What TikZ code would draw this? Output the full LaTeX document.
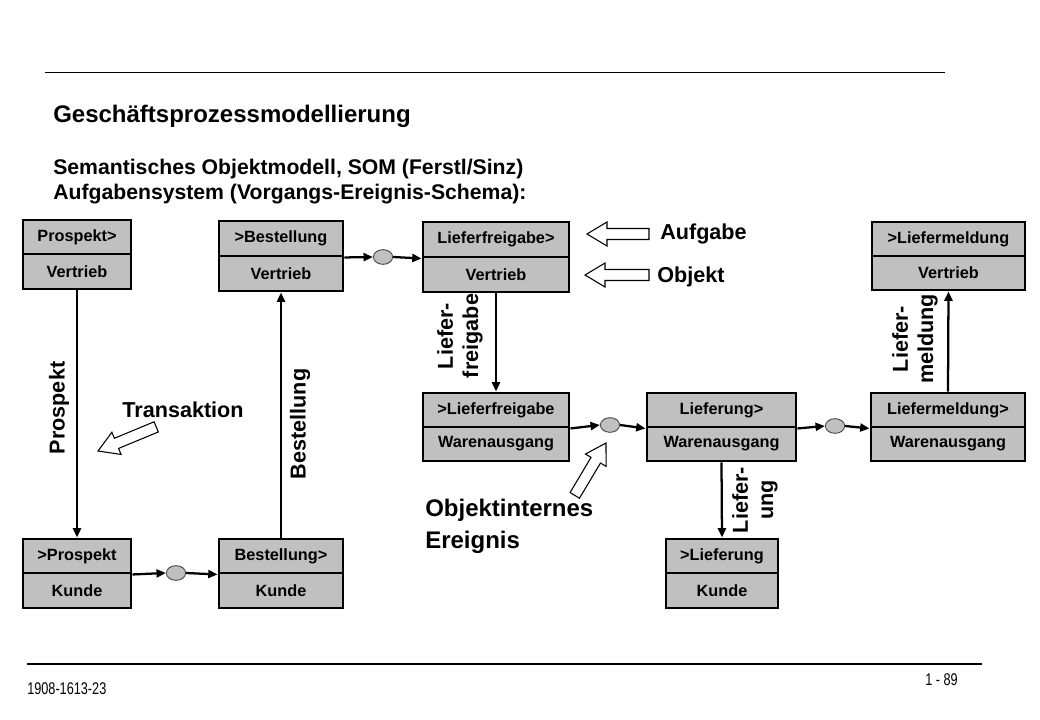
\documentclass[tikz,border=0pt]{standalone}
\usepackage{fontspec}
\setmainfont{Liberation Sans}
\usetikzlibrary{arrows.meta,shapes.geometric}
\definecolor{boxgray}{RGB}{192,192,192}
\newcommand\hollowarr[4]{%
  \begin{scope}[shift={(#1,#2)}, rotate=#3]
    \draw[line width=0.8pt, fill=white, line join=miter]
      (0,0) -- (20,-12) -- (20,-5.5) -- (#4,-5.5) -- (#4,5.5) -- (20,5.5) -- (20,12) -- cycle;
  \end{scope}}
\begin{document}
\begin{tikzpicture}[x=0.75pt,y=-0.75pt,
  cell/.style={draw=black, line width=2.2pt, fill=boxgray, inner sep=0pt,
    font=\fontsize{12.2}{14}\selectfont\bfseries},
  evt/.style={ellipse, draw=black!70, line width=0.7pt, fill=boxgray,
    minimum width=14.5pt, minimum height=11pt, inner sep=0pt},
  conn/.style={line width=1.7pt, -{Triangle[length=7pt,width=6pt]}},
  lbl/.style={font=\fontsize{16.2}{19}\selectfont\bfseries, align=center, inner sep=0pt},
  big/.style={font=\fontsize{16.2}{19}\selectfont\bfseries, inner sep=0pt}]
\fill[white] (0,0) rectangle (1040,720);
\useasboundingbox (0,0) rectangle (1040,720);

% header
\draw[line width=0.9pt] (45,72.5) -- (945,72.5);
\node[anchor=base west, inner sep=0pt, font=\fontsize{18}{22}\selectfont\bfseries] (title) at (53,123) {Geschäftsprozessmodellierung};
\node[anchor=base west, inner sep=0pt, font=\fontsize{15.9}{19}\selectfont\bfseries] (sub1) at (53,175) {Semantisches Objektmodell, SOM (Ferstl/Sinz)};
\node[anchor=base west, inner sep=0pt, font=\fontsize{15.9}{19}\selectfont\bfseries] (sub2) at (53,200) {Aufgabensystem (Vorgangs-Ereignis-Schema):};

% footer
\draw[line width=0.9pt] (27,664) -- (982,664);
\node[anchor=base west, inner sep=0pt] (foot) at (27,694) {\scalebox{0.75}[1]{\fontsize{12.7}{15}\selectfont 1908-1613-23}};
\node[anchor=base east, inner sep=0pt] (page) at (958,685) {\scalebox{0.75}[1]{\fontsize{12.7}{15}\selectfont 1 - 89}};

% boxes: top cell and bottom cell
% B1
\node[cell, minimum width=81pt, minimum height=25.5pt] (b1t) at (77,237) {Prospekt>};
\node[cell, minimum width=81pt, minimum height=26.25pt] (b1b) at (77,271.5) {Vertrieb};
% B2
\node[cell, minimum width=93pt, minimum height=26.25pt] (b2t) at (281,238.5) {>Bestellung};
\node[cell, minimum width=93pt, minimum height=26.25pt] (b2b) at (281,273.5) {Vertrieb};
% B3
\node[cell, minimum width=109.5pt, minimum height=26.25pt] (b3t) at (496,239.5) {Lieferfreigabe>};
\node[cell, minimum width=109.5pt, minimum height=26.25pt] (b3b) at (496,274.5) {Vertrieb};
% B4
\node[cell, minimum width=114.75pt, minimum height=25.5pt] (b4t) at (948.5,239) {>Liefermeldung};
\node[cell, minimum width=114.75pt, minimum height=25.5pt] (b4b) at (948.5,273) {Vertrieb};
% B5
\node[cell, minimum width=109.5pt, minimum height=25.5pt] (b5t) at (496,410) {>Lieferfreigabe};
\node[cell, minimum width=109.5pt, minimum height=25.5pt] (b5b) at (496,444) {Warenausgang};
% B6
\node[cell, minimum width=111.75pt, minimum height=25.5pt] (b6t) at (721.5,410) {Lieferung>};
\node[cell, minimum width=111.75pt, minimum height=25.5pt] (b6b) at (721.5,444) {Warenausgang};
% B7
\node[cell, minimum width=115.5pt, minimum height=25.5pt] (b7t) at (948,410) {Liefermeldung>};
\node[cell, minimum width=115.5pt, minimum height=25.5pt] (b7b) at (948,444) {Warenausgang};
% B8
\node[cell, minimum width=81pt, minimum height=25.5pt] (b8t) at (77,556) {>Prospekt};
\node[cell, minimum width=81pt, minimum height=26.25pt] (b8b) at (77,590.5) {Kunde};
% B9
\node[cell, minimum width=93pt, minimum height=25.5pt] (b9t) at (281,556) {Bestellung>};
\node[cell, minimum width=93pt, minimum height=26.25pt] (b9b) at (281,590.5) {Kunde};
% B10
\node[cell, minimum width=84pt, minimum height=25.5pt] (b10t) at (722,556) {>Lieferung};
\node[cell, minimum width=84pt, minimum height=26.25pt] (b10b) at (722,590.5) {Kunde};

% events
\node[evt] (e1) at (176,573) {};
\node[evt] (e2) at (383,257) {};
\node[evt] (e3) at (610,425) {};
\node[evt] (e4) at (835,426) {};

% horizontal connectors
\draw[conn] (b8t.south east) -- (e1.west);
\draw[conn] (e1.east) -- (b9t.south west);
\draw[conn] (b2t.south east) -- (e2.west);
\draw[conn] (e2.east) -- (b3t.south west);
\draw[conn] (b5t.south east) -- (e3.west);
\draw[conn] (e3.east) -- (b6t.south west);
\draw[conn] (b6t.south east) -- (e4.west);
\draw[conn] (e4.east) -- (b7t.south west);

% vertical connectors (transactions)
\draw[conn] (b1b.south) -- (b8t.north);
\draw[conn] (b9t.north) -- (b2b.south);
\draw[conn] (b3b.south) -- (b5t.north);
\draw[conn] (b6b.south) -- (b10t.north);
\draw[conn] (b7t.north) -- (b4b.south);

% connector labels
\node[lbl, rotate=90] (lprosp) at (59,408) {Prospekt};
\node[lbl, rotate=90] (lbest) at (300,424) {Bestellung};
\node[lbl, rotate=90] (lfrei) at (460,336) {Liefer-\\freigabe};
\node[lbl, rotate=90] (lliefer) at (755,500) {Liefer-\\ung};
\node[lbl, rotate=90] (lmeld) at (915,339) {Liefer-\\meldung};

% explanations
\node[big, anchor=west] (taufgabe) at (660,234) {Aufgabe};
\node[big, anchor=west] (tobjekt) at (657,277) {Objekt};
\node[big] (ttrans) at (183,410) {Transaktion};
\node[anchor=base west, inner sep=0pt, font=\fontsize{18}{22}\selectfont\bfseries] (tobj1) at (425,517) {Objektinternes};
\node[anchor=base west, inner sep=0pt, font=\fontsize{18}{22}\selectfont\bfseries] (tobj2) at (425,548) {Ereignis};

% hollow pointer arrows
\hollowarr{587}{234}{0}{62}
\hollowarr{585}{275}{0}{64}
\hollowarr{98}{451}{22.5}{63}
\hollowarr{606}{443}{239.2}{61}
\end{tikzpicture}
\end{document}
